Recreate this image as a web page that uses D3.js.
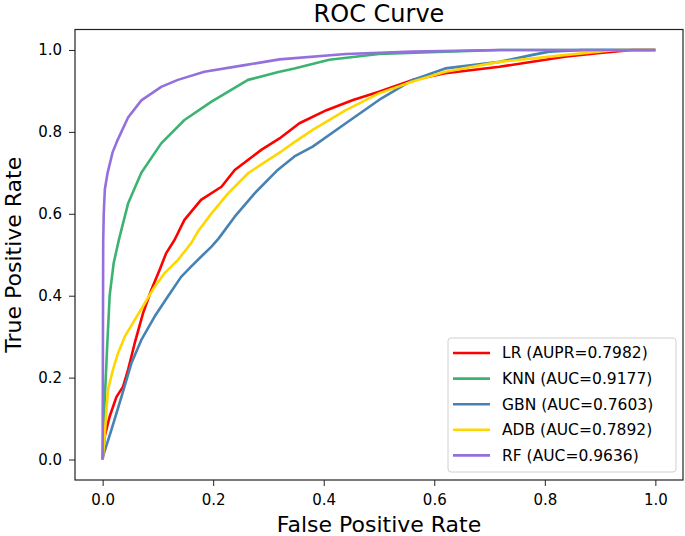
<!DOCTYPE html>
<html lang="en">
<head>
    <meta charset="UTF-8">
    <title>ROC Curve</title>
    <style>
        body { margin: 0; background: #fff; }
        text { font-family: "DejaVu Sans", sans-serif; fill: #000; }
        .line { fill: none; stroke-width: 2.6px; stroke-linejoin: round; }
        .tick line { stroke: #222; }
    </style>
    <script src="https://d3js.org/d3.v7.min.js"></script>
</head>
<body>
<svg></svg>
<script>
    // series, [fpr, tpr] pairs
    const lr = [[0,0],[0.0036,0.056],[0.0127,0.105],[0.025,0.153],[0.037,0.178],[0.046,0.219],[0.058,0.284],
        [0.073,0.357],[0.088,0.414],[0.103,0.463],[0.115,0.504],[0.13,0.536],[0.148,0.585],[0.178,0.634],
        [0.215,0.666],[0.239,0.707],[0.287,0.756],[0.32,0.784],[0.356,0.821],[0.405,0.853],[0.453,0.878],
        [0.5,0.898],[0.561,0.927],[0.62,0.943],[0.718,0.959],[0.839,0.984],[0.9,0.993],[0.958,1.0],[1,1]];
    const knn = [[0,0],[0.001,0.06],[0.004,0.15],[0.008,0.27],[0.0127,0.40],[0.02,0.48],[0.03,0.54],
        [0.046,0.625],[0.07,0.70],[0.106,0.772],[0.148,0.829],[0.197,0.874],[0.263,0.927],[0.32,0.947],
        [0.347,0.955],[0.41,0.976],[0.5,0.99],[0.62,0.996],[0.72,1.0],[1,1]];
    const gbn = [[0,0],[0.0005,0.007],[0.0157,0.072],[0.034,0.153],[0.052,0.235],[0.07,0.292],[0.094,0.349],
        [0.118,0.398],[0.142,0.446],[0.16,0.471],[0.178,0.495],[0.197,0.52],[0.21,0.54],[0.239,0.593],
        [0.275,0.65],[0.315,0.705],[0.347,0.74],[0.38,0.764],[0.44,0.821],[0.5,0.878],[0.561,0.927],
        [0.62,0.955],[0.718,0.971],[0.778,0.988],[0.808,0.996],[0.868,1.0],[1,1]];
    const adb = [[0,0],[0.0036,0.056],[0.0096,0.17],[0.0186,0.219],[0.0277,0.259],[0.04,0.30],[0.058,0.341],
        [0.076,0.381],[0.094,0.422],[0.112,0.455],[0.136,0.487],[0.16,0.528],[0.172,0.556],[0.197,0.601],
        [0.227,0.65],[0.263,0.699],[0.299,0.731],[0.323,0.752],[0.347,0.775],[0.38,0.805],[0.44,0.853],
        [0.5,0.894],[0.561,0.923],[0.62,0.947],[0.718,0.971],[0.839,0.988],[0.929,1.0],[1,1]];
    const rf = [[0,0],[0.001,0.53],[0.002,0.6],[0.004,0.66],[0.009,0.70],[0.018,0.75],[0.027,0.78],
        [0.046,0.835],[0.07,0.877],[0.106,0.91],[0.136,0.927],[0.184,0.947],[0.257,0.963],[0.32,0.977],
        [0.44,0.99],[0.56,0.996],[0.718,1.0],[1,1]];

    const names = ["LR (AUPR=0.7982)", "KNN (AUC=0.9177)", "GBN (AUC=0.7603)", "ADB (AUC=0.7892)", "RF (AUC=0.9636)"];
    const colors = ["#ff0000", "#3cb371", "#4682b4", "#ffd700", "#9370db"];
    const ticks = [0, 0.2, 0.4, 0.6, 0.8, 1.0];

    const width = 685, height = 536;
    const margin = { top: 29.5, right: 2, bottom: 56, left: 75 };

    const svg = d3.select("svg").attr("width", width).attr("height", height);

    const x = d3.scaleLinear().domain([-0.05, 1.05]).range([margin.left, width - margin.right]);
    const y = d3.scaleLinear().domain([-0.05, 1.05]).range([height - margin.bottom, margin.top]);

    const line = d3.line().x(d => x(d[0])).y(d => y(d[1]));

    [lr, knn, gbn, adb, rf].forEach((s, i) => {
        svg.append("path")
            .datum(s)
            .attr("class", "line")
            .attr("stroke", colors[i])
            .attr("d", line);
    });

    // axes
    const xAxis = svg.append("g")
        .attr("transform", `translate(0,${height - margin.bottom})`)
        .call(d3.axisBottom(x).tickValues(ticks).tickFormat(d3.format(".1f")).tickSize(6).tickPadding(8));
    const yAxis = svg.append("g")
        .attr("transform", `translate(${margin.left},0)`)
        .call(d3.axisLeft(y).tickValues(ticks).tickFormat(d3.format(".1f")).tickSize(6).tickPadding(7));
    [xAxis, yAxis].forEach(a => {
        a.select(".domain").remove();
        a.selectAll("text").style("font-size", "15px").attr("fill", "#000");
    });

    // frame
    svg.append("rect")
        .attr("x", margin.left).attr("y", margin.top)
        .attr("width", width - margin.right - margin.left)
        .attr("height", height - margin.bottom - margin.top)
        .attr("fill", "none").attr("stroke", "#222").attr("stroke-width", 1.2);

    svg.append("text")
        .attr("x", (margin.left + width - margin.right) / 2).attr("y", 22)
        .attr("text-anchor", "middle").style("font-size", "24px")
        .text("ROC Curve");
    svg.append("text")
        .attr("x", (margin.left + width - margin.right) / 2).attr("y", 532)
        .attr("text-anchor", "middle").style("font-size", "22px")
        .text("False Positive Rate");
    svg.append("text")
        .attr("transform", `translate(21,${(margin.top + height - margin.bottom) / 2}) rotate(-90)`)
        .attr("text-anchor", "middle").style("font-size", "22px")
        .text("True Positive Rate");

    // legend
    const legend = svg.append("g").attr("transform", "translate(448,338)");
    legend.append("rect")
        .attr("width", 228).attr("height", 134).attr("rx", 3)
        .attr("fill", "#fff").attr("fill-opacity", 0.8)
        .attr("stroke", "#d0d0d0");
    names.forEach((n, i) => {
        const row = legend.append("g").attr("transform", `translate(0,${15 + i * 25.6})`);
        row.append("line").attr("x1", 5).attr("x2", 42)
            .attr("stroke", colors[i]).attr("stroke-width", 2.6);
        row.append("text").attr("x", 54).attr("dy", "0.35em")
            .style("font-size", "15.5px").text(n);
    });
</script>
</body>
</html>
